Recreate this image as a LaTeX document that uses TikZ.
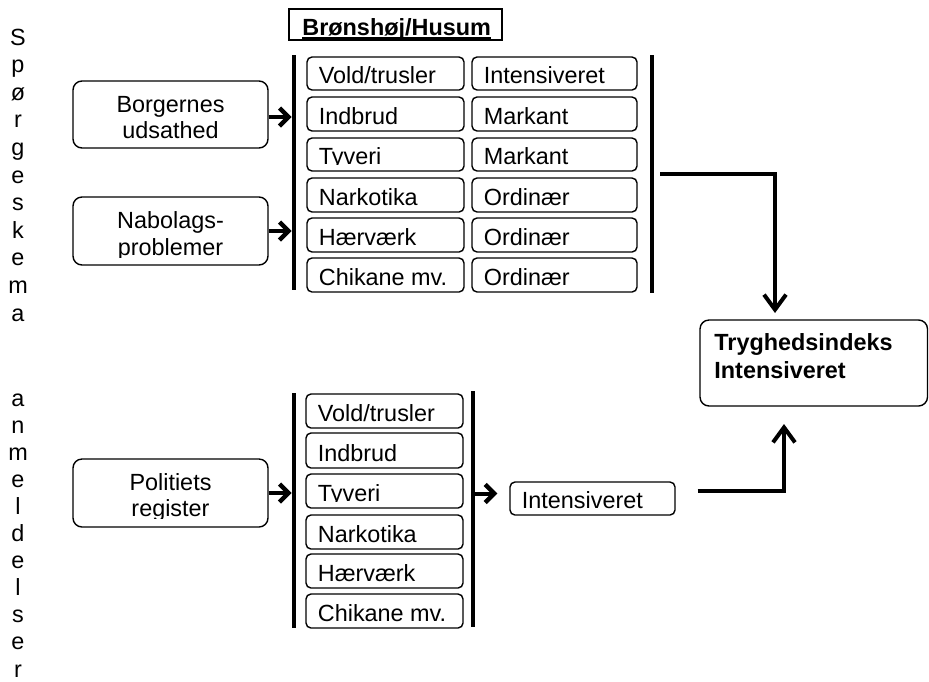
\documentclass[tikz,border=0pt]{standalone}
\usepackage{fontspec}
\setmainfont{Liberation Sans}
\usetikzlibrary{arrows.meta,fit}
\newcommand{\cellA}[6]{%
  \node[cellbox, fit={(#2,#3) (#4,#5)}] (#1) {};
  \begin{scope}
    \clip (#2,#3) rectangle (#4,#5-7);
    \node[txt] (#1t) at (#2+11.5,#5-7) {#6};
  \end{scope}
}
\begin{document}
\begin{tikzpicture}[x=0.5pt,y=-0.5pt,
  every node/.style={font=\fontsize{11.7}{14}\selectfont},
  cellbox/.style={draw, line width=0.7pt, rounded corners=2.5pt, inner sep=0pt},
  bigbox/.style={draw, line width=0.7pt, rounded corners=4.5pt, inner sep=0pt},
  bar/.style={fill=black, inner sep=0pt, minimum width=2pt},
  txt/.style={anchor=base west, inner sep=0pt},
  ctxt/.style={anchor=base, inner sep=0pt},
  vlet/.style={anchor=base, inner sep=0pt},
  harr/.style={line width=2pt, -{Straight Barb[length=4.5pt,width=9pt,line width=2.2pt]}},
  vhead/.style={-{Straight Barb[length=7.5pt,width=11pt,line width=2pt]}},
  conn/.style={line width=2pt},
]
\useasboundingbox (0,0) rectangle (929,681);

% vertical labels
\foreach \ch [count=\i] in {S,p,ø,r,g,e,s,k,e,m,a}
  \node[vlet] (sp\i) at (18,{45+27.6*(\i-1)}) {\ch};
\foreach \ch [count=\i] in {a,n,m,e,l,d,e,l,s,e,r}
  \node[vlet] (an\i) at (18,{406+27.1*(\i-1)}) {\ch};

% title
\node[draw, line width=0.8pt, inner sep=0pt, fit={(289,9) (502,40)}] (title) {};
\begin{scope}
  \clip (289,9) rectangle (502,38);
  \node[txt, font=\fontsize{11.7}{14}\selectfont\bfseries] (titlet) at (302,35) {Brønshøj/Husum};
\end{scope}
\draw[line width=0.8pt] ([yshift=-1.5pt]titlet.base west) -- ([yshift=-1.5pt]titlet.base east);

% left input boxes
\node[bigbox, fit={(73,81) (268,148)}] (borg) {};
\node[ctxt] (borgt1) at (170.5,112) {Borgernes};
\node[ctxt] (borgt2) at (170.5,138) {udsathed};

\node[bigbox, fit={(73,197) (268,265)}] (nabo) {};
\begin{scope}
  \clip (73,197) rectangle (268,257);
  \node[ctxt] (nabot1) at (170.5,228) {Nabolags-};
  \node[ctxt] (nabot2) at (170.5,255) {problemer};
\end{scope}

\node[bigbox, fit={(73,459) (268,527)}] (poli) {};
\begin{scope}
  \clip (73,459) rectangle (268,518);
  \node[ctxt] (polit1) at (170.5,490) {Politiets};
  \node[ctxt] (polit2) at (170.5,516) {register};
\end{scope}

% bars
\node[bar, minimum height=117.5pt] (lbar1) at (294,172.5) {};
\node[bar, minimum height=119pt] (rbar1) at (652,174) {};
\node[bar, minimum height=117.5pt] (lbar2) at (294,510.5) {};
\node[bar, minimum height=118pt] (rbar2) at (473,509) {};

% top cells
\cellA{a1}{307}{57}{464}{90}{Vold/trusler}
\cellA{a2}{307}{97}{464}{131}{Indbrud}
\cellA{a3}{307}{138}{464}{171}{Tyveri}
\cellA{a4}{307}{178}{464}{212}{Narkotika}
\cellA{a5}{307}{218}{464}{252}{Hærværk}
\cellA{a6}{307}{258}{464}{292}{Chikane mv.}
\cellA{b1}{472}{57}{637}{90}{Intensiveret}
\cellA{b2}{472}{97}{637}{131}{Markant}
\cellA{b3}{472}{138}{637}{171}{Markant}
\cellA{b4}{472}{178}{637}{212}{Ordinær}
\cellA{b5}{472}{218}{637}{252}{Ordinær}
\cellA{b6}{472}{258}{637}{292}{Ordinær}

% bottom cells
\cellA{c1}{306}{394}{463}{428}{Vold/trusler}
\cellA{c2}{306}{433}{463}{468}{Indbrud}
\cellA{c3}{306}{474}{463}{508}{Tyveri}
\cellA{c4}{306}{515}{463}{549}{Narkotika}
\cellA{c5}{306}{554}{463}{588}{Hærværk}
\cellA{c6}{306}{594}{463}{628}{Chikane mv.}

\cellA{intB}{510}{482}{675}{515}{Intensiveret}

% result box
\node[bigbox, fit={(700,320) (927.5,406)}] (tryg) {};
\node[txt, font=\fontsize{11.7}{14}\selectfont\bfseries] (trygt1) at (714,350) {Tryghedsindeks};
\node[txt, font=\fontsize{11.7}{14}\selectfont\bfseries] (trygt2) at (714,378) {Intensiveret};

% arrows
\draw[harr] ([yshift=-1.25pt]borg.east) -- ([yshift=-1.25pt]borg.east -| lbar1.west);
\draw[harr] (nabo.east) -- (nabo.east -| lbar1.west);
\draw[harr] (poli.east) -- (poli.east -| lbar2.west);
\draw[harr, shorten >=6pt] ([yshift=2.5pt]intB.west -| rbar2.east) -- ([yshift=2.5pt]intB.west);

\coordinate (tIn) at (775,320);
\coordinate (tOut) at (784,406);
\draw[conn, vhead, shorten >=3.5pt] ([xshift=3pt]rbar1.east) -| (tIn);
\draw[conn, vhead, shorten >=9pt] ([xshift=11pt,yshift=4pt]intB.east) -| (tOut);
\end{tikzpicture}
\end{document}
